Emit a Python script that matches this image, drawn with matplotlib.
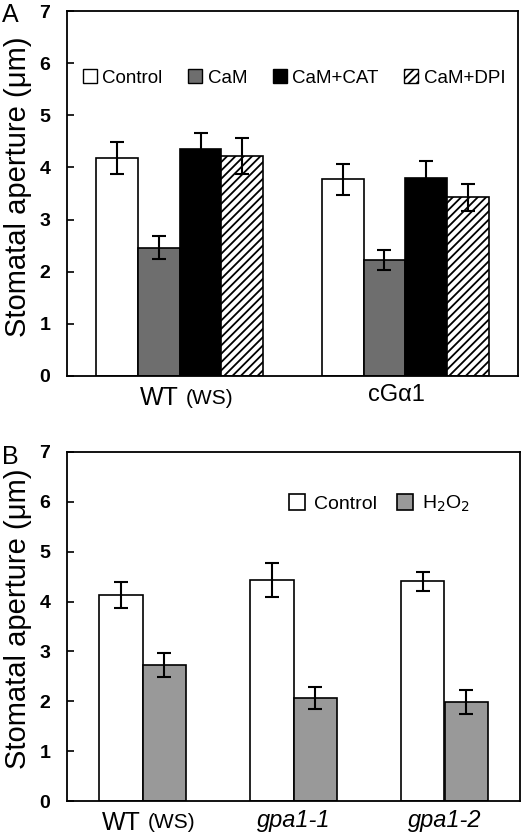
import numpy as np
import matplotlib
matplotlib.use("Agg")
import matplotlib.pyplot as plt
from matplotlib.patches import Patch

plt.rcParams['font.family'] = ['Liberation Sans', 'DejaVu Sans']
plt.rcParams['hatch.linewidth'] = 1.3

# panel A data
groups_a = ['cGα1']
treat_a = ['Control', 'CaM', 'CaM+CAT', 'CaM+DPI']
wt_a = [4.18, 2.46, 4.36, 4.22]
wt_a_err = [0.31, 0.22, 0.30, 0.34]
cga_a = [3.77, 2.23, 3.80, 3.43]
cga_a_err = [0.30, 0.19, 0.33, 0.26]

# panel B data
groups_b = ['gpa1-1', 'gpa1-2']
treat_b = ['Control', 'H$_2$O$_2$']
control_b = [4.14, 4.44, 4.41]
control_b_err = [0.26, 0.34, 0.19]
h2o2_b = [2.73, 2.06, 1.98]
h2o2_b_err = [0.24, 0.22, 0.24]

colors_a = ['white', '#6e6e6e', 'black', 'white']
hatches_a = [None, None, None, '////']
colors_b = ['white', '#999999']

fig = plt.figure(figsize=(5.31, 8.34), dpi=100)
ax1 = fig.add_axes([67/531, 1 - 376/834, 451/531, 365/834])
ax2 = fig.add_axes([67/531, 1 - 801/834, 453/531, 349/834])


def style_axis(ax, ly):
    ax.set_ylim(0, 7)
    ax.set_yticks(range(0, 8))
    ax.tick_params(axis='y', direction='in', length=5, width=1.2, labelsize=14, pad=12)
    ax.tick_params(axis='x', length=0, pad=6)
    for lab in ax.get_yticklabels():
        lab.set_fontweight('bold')
    for s in ax.spines.values():
        s.set_linewidth(1.3)
    ax.set_ylabel('Stomatal aperture (μm)', fontsize=21)
    ax.yaxis.set_label_coords(-0.077, ly)


def wt_label(ax, x):
    tr = ax.get_xaxis_transform()
    ax.annotate('WT', xy=(x, 0), xycoords=tr, xytext=(-1, -7), textcoords='offset points',
                ha='right', va='top', fontsize=18)
    ax.annotate('(WS)', xy=(x, 0), xycoords=tr, xytext=(4, -9), textcoords='offset points',
                ha='left', va='top', fontsize=15)


# Panel A
x_a = np.arange(2)
w_a = 0.185
vals_a = np.array([wt_a, cga_a])
errs_a = np.array([wt_a_err, cga_a_err])
for i in range(4):
    ax1.bar(x_a + (i - 1.5) * w_a, vals_a[:, i], w_a, color=colors_a[i], edgecolor='black',
            linewidth=1.2, hatch=hatches_a[i], label=treat_a[i])
    ax1.errorbar(x_a + (i - 1.5) * w_a, vals_a[:, i], yerr=errs_a[:, i], fmt='none',
                 ecolor='black', elinewidth=1.5, capsize=5, capthick=1.5)
ax1.set_xlim(-0.5, 1.5)
ax1.set_xticks([0.96])
ax1.set_xticklabels(groups_a, fontsize=17)
style_axis(ax1, 0.518)
wt_label(ax1, 0)
handles_a = [Patch(facecolor=colors_a[i], edgecolor='black', hatch=hatches_a[i], linewidth=1.0)
             for i in range(4)]
ax1.legend(handles_a, treat_a, loc='upper left', bbox_to_anchor=(0.035, 0.84), ncol=4,
           frameon=False, fontsize=13.5, handlelength=0.75, handleheight=0.75,
           handletextpad=0.3, columnspacing=1.35, borderaxespad=0, borderpad=0)
fig.text(0.004, 1 - 3/834, 'A', fontsize=18, va='top', ha='left')

# Panel B
x_b = np.arange(3)
w_b = 0.285
ax2.bar(x_b - w_b / 2, control_b, w_b, color=colors_b[0], edgecolor='black', linewidth=1.2)
ax2.bar(x_b + w_b / 2, h2o2_b, w_b, color=colors_b[1], edgecolor='black', linewidth=1.2)
ax2.errorbar(x_b - w_b / 2, control_b, yerr=control_b_err, fmt='none', ecolor='black',
             elinewidth=1.5, capsize=5, capthick=1.5)
ax2.errorbar(x_b + w_b / 2, h2o2_b, yerr=h2o2_b_err, fmt='none', ecolor='black',
             elinewidth=1.5, capsize=5, capthick=1.5)
ax2.set_xlim(-0.5, 2.5)
ax2.set_xticks([1, 2])
ax2.set_xticklabels(groups_b, fontsize=17, style='italic')
style_axis(ax2, 0.521)
wt_label(ax2, 0)
handles_b = [Patch(facecolor=c, edgecolor='black', linewidth=1.2) for c in colors_b]
ax2.legend(handles_b, treat_b, loc='upper left', bbox_to_anchor=(0.49, 0.88), ncol=2,
           frameon=False, fontsize=14, handlelength=0.85, handleheight=0.85,
           handletextpad=0.45, columnspacing=1.0, borderaxespad=0, borderpad=0)
fig.text(0.004, 1 - 445/834, 'B', fontsize=18, va='top', ha='left')

fig.savefig('out.png', dpi=100)
